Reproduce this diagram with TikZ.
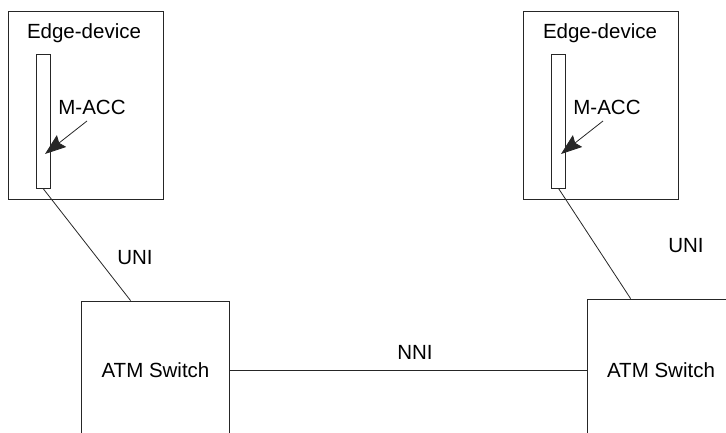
\documentclass[tikz,border=0pt]{standalone}
\usepackage{fontspec}
\setmainfont{Liberation Sans}
\usetikzlibrary{arrows.meta,positioning,calc}
\tikzset{
  box/.style={draw=black!85,line width=0.8pt,inner sep=0pt},
  devbox/.style={box,minimum width=155pt,minimum height=188pt},
  accbar/.style={box,minimum width=14pt,minimum height=134pt},
  switchbox/.style={box,minimum width=148pt,minimum height=200pt},
  txt/.style={font=\fontsize{20.5}{24}\selectfont,inner sep=0pt},
  ln/.style={draw=black!85,line width=0.8pt},
  pointer/.style={ln,-{Stealth[length=21pt,width=15pt,inset=3pt]}},
}

\begin{document}
\begin{tikzpicture}[x=1pt,y=-1pt]
  \useasboundingbox (0,0) rectangle (726,433);
  \clip (0,0) rectangle (726,433);
  % edge devices
  \node[devbox] (devL) at (85.5,105) {};
  \node[devbox] (devR) at (600.5,105) {};
  \node[txt] (devLtxt) at (84,33) {Edge-device};
  \node[txt] (devRtxt) at (600,33) {Edge-device};
  \node[accbar] (accL) at (43,121) {};
  \node[accbar] (accR) at (558.5,121) {};
  \node[txt] (maccL) at (92,107) {M-ACC};
  \node[txt] (maccR) at (607,107) {M-ACC};
  \coordinate (fromL) at (87,121);
  \coordinate (tipL) at (45,154);
  \coordinate (fromR) at (603,121);
  \coordinate (tipR) at (561,154);
  \draw[pointer] (fromL) -- (tipL);
  \draw[pointer] (fromR) -- (tipR);
  % switches
  \node[switchbox] (swL) at (155,401) {};
  \node[switchbox] (swR) at (661,399) {};
  \node[txt] (swLtxt) at (155.5,370) {ATM Switch};
  \node[txt] (swRtxt) at (661,370) {ATM Switch};
  % links
  \draw[ln] (accL.south) -- ($(swL.north west)+(50,0)$);
  \draw[ln] (accR.south) -- ($(swR.north west)+(44,0)$);
  \draw[ln] (swL.east |- swLtxt) -- (swR.west |- swLtxt);
  \node[txt] (uniL) at (135,258) {UNI};
  \node[txt] (uniR) at (686,246) {UNI};
  \node[txt] (nni) at (415,352) {NNI};
\end{tikzpicture}
\end{document}
